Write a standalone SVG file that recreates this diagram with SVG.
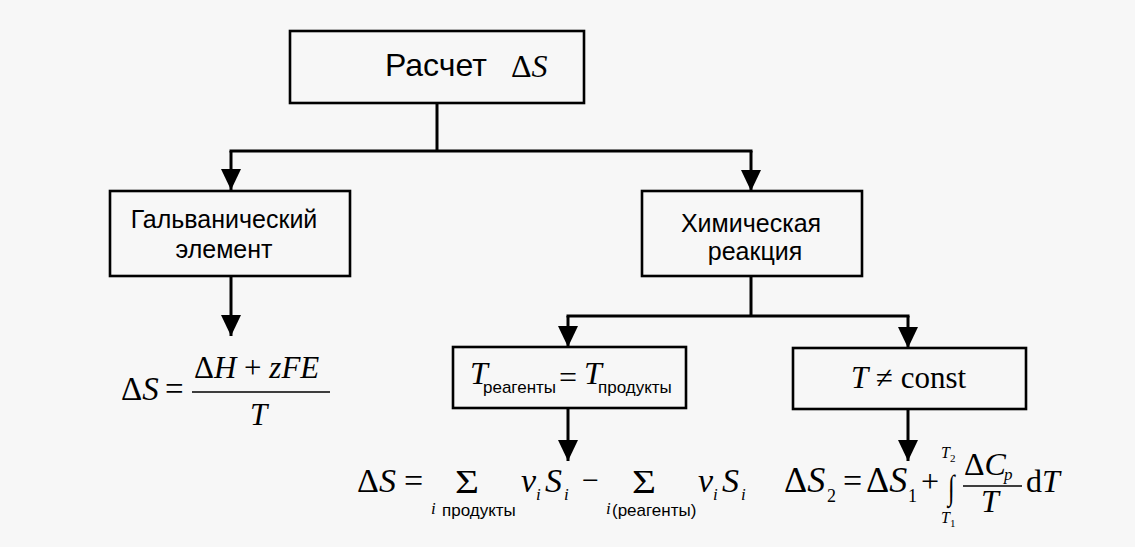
<svg xmlns="http://www.w3.org/2000/svg" width="1135" height="547" viewBox="0 0 1135 547">
<defs>
<marker id="arr" viewBox="0 0 21 20" refX="21" refY="10" markerWidth="21" markerHeight="20" markerUnits="userSpaceOnUse" orient="auto">
<path d="M0,0 L21,10 L0,20 z" fill="#000"/>
</marker>
<style>
.box{fill:#f7f7f7;stroke:#000;stroke-width:2.6}
.con{fill:none;stroke:#000;stroke-width:3}
.sans{font-family:"Liberation Sans",Arial,sans-serif;fill:#000}
.ser{font-family:"Liberation Serif","Times New Roman",serif;fill:#000}
.it{font-style:italic}
.frac{stroke:#000;stroke-width:1.6}
</style>
</defs>
<rect width="1135" height="547" fill="#f7f7f7"/>
<g id="connectors">
<path class="con" d="M437,103 V151 M229.5,151 H752.5"/>
<path class="con" d="M231,151 V190" marker-end="url(#arr)"/>
<path class="con" d="M751,151 V191" marker-end="url(#arr)"/>
<path class="con" d="M231,276 V336" marker-end="url(#arr)"/>
<path class="con" d="M751,276 V316 M566.5,316 H909.5"/>
<path class="con" d="M568,316 V347" marker-end="url(#arr)"/>
<path class="con" d="M908,316 V348" marker-end="url(#arr)"/>
<path class="con" d="M568,408 V461" marker-end="url(#arr)"/>
<path class="con" d="M908,409 V461" marker-end="url(#arr)"/>
</g>
<g id="root">
<rect class="box" x="290" y="31" width="294" height="72"/>
<text class="sans" x="385" y="76" font-size="32">Расчет</text>
<text class="ser" x="511" y="77" font-size="32">Δ<tspan class="it">S</tspan></text>
</g>
<g id="galvanic">
<rect class="box" x="110" y="191" width="240" height="85"/>
<text class="sans" x="224" y="228" font-size="25" text-anchor="middle">Гальванический</text>
<text class="sans" x="224" y="258" font-size="25" text-anchor="middle">элемент</text>
</g>
<g id="chem">
<rect class="box" x="642" y="191" width="220" height="85"/>
<text class="sans" x="751" y="232" font-size="25" text-anchor="middle">Химическая</text>
<text class="sans" x="755" y="260" font-size="25" text-anchor="middle">реакция</text>
</g>
<g id="formula-galvanic">
<text class="ser" x="121" y="400" font-size="33">Δ<tspan class="it">S</tspan></text>
<text class="ser" x="165" y="400" font-size="33">=</text>
<line class="frac" x1="192" y1="392" x2="330" y2="392"/>
<text class="ser" x="194" y="378" font-size="31">Δ<tspan class="it">H</tspan> + <tspan class="it">zFE</tspan></text>
<text class="ser it" x="250" y="425" font-size="31">T</text>
</g>
<g id="tequal">
<rect class="box" x="453" y="347" width="233" height="61"/>
<text class="ser it" x="470" y="384" font-size="32">T</text>
<text class="sans" x="483" y="393" font-size="17">реагенты</text>
<text class="ser" x="559" y="388" font-size="32">=</text>
<text class="ser it" x="584" y="384" font-size="32">T</text>
<text class="sans" x="598" y="393" font-size="17">продукты</text>
</g>
<g id="tconst">
<rect class="box" x="793" y="348" width="233" height="61"/>
<text class="ser" x="851" y="388" font-size="31"><tspan class="it">T</tspan> ≠ const</text>
</g>
<g id="formula-sum">
<text class="ser" x="357" y="492" font-size="34">Δ<tspan class="it">S</tspan></text>
<text class="ser" x="404" y="492" font-size="34">=</text>
<text class="ser" transform="translate(455,493) scale(1.25,1)" font-size="33">Σ</text>
<text class="ser it" x="431" y="514" font-size="17">i</text>
<text class="sans" x="442" y="516" font-size="17">продукты</text>
<text class="ser it" x="521" y="492" font-size="34">ν</text>
<text class="ser it" x="536" y="500" font-size="17">i</text>
<text class="ser it" x="545" y="492" font-size="34">S</text>
<text class="ser it" x="564" y="500" font-size="17">i</text>
<text class="ser" x="582" y="490" font-size="30">−</text>
<text class="ser" transform="translate(632,493) scale(1.25,1)" font-size="33">Σ</text>
<text class="ser it" x="606" y="514" font-size="17">i</text>
<text class="sans" x="612" y="516" font-size="17">(реагенты)</text>
<text class="ser it" x="698" y="492" font-size="34">ν</text>
<text class="ser it" x="713" y="500" font-size="17">i</text>
<text class="ser it" x="722" y="492" font-size="34">S</text>
<text class="ser it" x="741" y="500" font-size="17">i</text>
</g>
<g id="formula-integral">
<text class="ser" x="784" y="492" font-size="36">Δ<tspan class="it">S</tspan></text>
<text class="ser" x="827" y="502" font-size="18">2</text>
<text class="ser" x="843" y="492" font-size="34">=</text>
<text class="ser" x="866" y="492" font-size="36">Δ<tspan class="it">S</tspan></text>
<text class="ser" x="908" y="502" font-size="18">1</text>
<text class="ser" x="921" y="492" font-size="32">+</text>
<text class="ser" transform="translate(948,499) scale(0.8,1.15)" font-size="30">∫</text>
<text class="ser it" x="941" y="458" font-size="16">T</text>
<text class="ser" x="950" y="462" font-size="11">2</text>
<text class="ser it" x="941" y="523" font-size="16">T</text>
<text class="ser" x="950" y="527" font-size="11">1</text>
<text class="ser" x="964" y="475" font-size="32">Δ<tspan class="it">C</tspan></text>
<text class="ser it" x="1004" y="480" font-size="17">p</text>
<line class="frac" x1="963" y1="486" x2="1022" y2="486"/>
<text class="ser it" x="981" y="512" font-size="32">T</text>
<text class="ser" x="1026" y="492" font-size="32">d<tspan class="it">T</tspan></text>
</g>
</svg>
